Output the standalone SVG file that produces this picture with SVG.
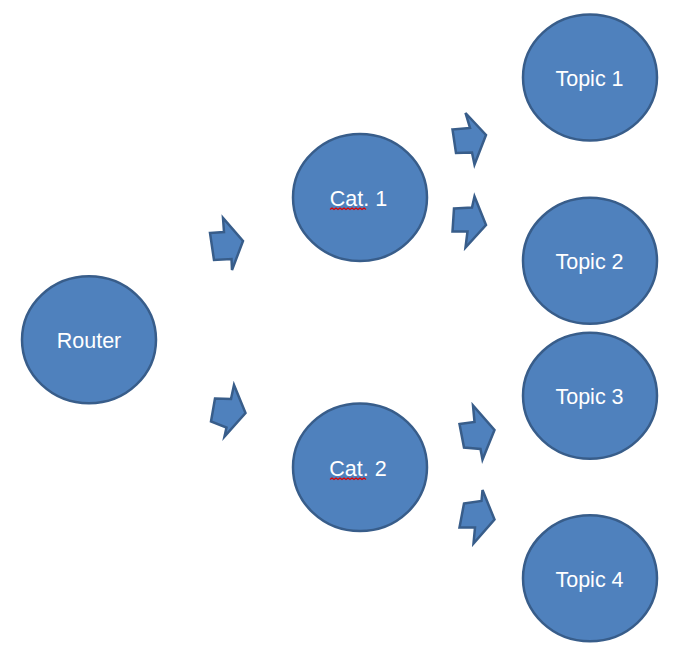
<svg xmlns="http://www.w3.org/2000/svg" width="673" height="657" viewBox="0 0 673 657">
<style>
.node ellipse{fill:#4F81BD;stroke:#385D8A;stroke-width:2.5}
.node text{fill:#FFFFFF;font-family:"Liberation Sans",Arial,sans-serif;font-size:21.5px;text-anchor:middle}
.arrow{fill:#4F81BD;stroke:#385D8A;stroke-width:2.5;stroke-linejoin:miter}
.squiggle{fill:none;stroke:#E00000;stroke-width:1.2}
</style>
<rect width="673" height="657" fill="#FFFFFF"/>
<g id="connectors">
<polygon class="arrow" points="210,233 224,232 223,218 243,241 232,270 231.5,259 214,260"/>
<polygon class="arrow" points="215,398.5 231,399 234,385 245.5,413 224.5,436.5 226.5,427.5 211,421.5"/>
<polygon class="arrow" points="452.5,129.5 470,128 465.5,113 486,135 474.5,164.5 472,152.5 456,153"/>
<polygon class="arrow" points="454,208.5 472,207.5 474.5,196.5 486,225 465.5,247.5 467.5,231.5 452.5,231.5"/>
<polygon class="arrow" points="459.5,424 474.5,422 473,405.5 494.5,430 482.5,459.5 480.5,449 464,447.5"/>
<polygon class="arrow" points="464,503.5 481.5,501 482.5,490 494.5,519.5 473.5,543.5 475,527.5 459.5,527.5"/>
</g>
<g id="router" class="node">
<ellipse cx="89" cy="339.7" rx="67" ry="63.5"/>
<text x="89" y="348">Router</text>
</g>
<g id="cat1" class="node">
<ellipse cx="360" cy="197.5" rx="67" ry="63.5"/>
<text x="358.5" y="206">Cat. 1</text>
<path class="squiggle" d="M330,209.5 l2,-1.5 l2,1.5 l2,-1.5 l2,1.5 l2,-1.5 l2,1.5 l2,-1.5 l2,1.5 l2,-1.5 l2,1.5 l2,-1.5 l2,1.5 l2,-1.5 l2,1.5 l2,-1.5 l2,1.5 l2,-1.5 l2,1.5"/>
</g>
<g id="cat2" class="node">
<ellipse cx="360" cy="467.3" rx="67" ry="63.8"/>
<text x="358" y="475.7">Cat. 2</text>
<path class="squiggle" d="M330,479.5 l2,-1.5 l2,1.5 l2,-1.5 l2,1.5 l2,-1.5 l2,1.5 l2,-1.5 l2,1.5 l2,-1.5 l2,1.5 l2,-1.5 l2,1.5 l2,-1.5 l2,1.5 l2,-1.5 l2,1.5 l2,-1.5 l2,1.5"/>
</g>
<g id="topic1" class="node">
<ellipse cx="590" cy="77.5" rx="67" ry="63"/>
<text x="589.5" y="86">Topic 1</text>
</g>
<g id="topic2" class="node">
<ellipse cx="590" cy="260.8" rx="67" ry="63"/>
<text x="589.5" y="269.3">Topic 2</text>
</g>
<g id="topic3" class="node">
<ellipse cx="590" cy="395.8" rx="67" ry="63"/>
<text x="589.5" y="404.3">Topic 3</text>
</g>
<g id="topic4" class="node">
<ellipse cx="590" cy="578.3" rx="67" ry="63"/>
<text x="589.5" y="586.7">Topic 4</text>
</g>
</svg>
